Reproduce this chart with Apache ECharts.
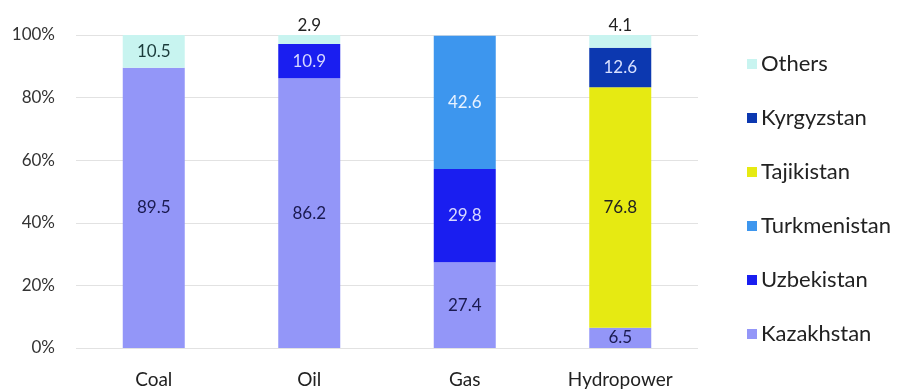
<!DOCTYPE html>
<html><head><meta charset="utf-8">
<script src="https://cdn.jsdelivr.net/npm/echarts@6/dist/echarts.min.js"></script>
<style>html,body{margin:0;padding:0;background:#fff}#c{width:897px;height:392px}</style>
</head><body><div id="c"></div>
<script>
const categories = ['Coal', 'Oil', 'Gas', 'Hydropower'];
const kazakhstan = [89.5, 86.2, 27.4, 6.5];
const uzbekistan = [0, 10.9, 29.8, 0];
const turkmenistan = [0, 0, 42.6, 0];
const tajikistan = [0, 0, 0, 76.8];
const kyrgyzstan = [0, 0, 0, 12.6];
const others = [10.5, 2.9, 0, 4.1];
const yTicks = [0, 20, 40, 60, 80, 100];

const font = 'Lato';
function mk(name, data, color, labelColor) {
  return {
    name, type: 'bar', stack: 'total', barWidth: 62,
    itemStyle: { color },
    label: {
      show: true, position: 'inside', color: labelColor, fontFamily: font, fontSize: 17,
      formatter: p => p.value ? p.value.toFixed(1) : ''
    },
    data: data.map(v => {
      if (name === 'Others' && v > 0 && v < 6) {
        return { value: v, label: { position: 'top', distance: 1, color: '#222' } };
      }
      return v;
    })
  };
}
const chart = echarts.init(document.getElementById('c'));
chart.setOption({
  animation: false,
  textStyle: { fontFamily: font },
  grid: { left: 76, right: 199, top: 35, bottom: 44 },
  legend: {
    orient: 'vertical', left: 742, top: 47,
    itemWidth: 10, itemHeight: 10, itemGap: 30, icon: 'rect',
    textStyle: { fontFamily: font, fontSize: 22, color: '#222', lineHeight: 24, padding: [0, 0, 0, -1] },
    data: ['Others', 'Kyrgyzstan', 'Tajikistan', 'Turkmenistan', 'Uzbekistan', 'Kazakhstan']
  },
  xAxis: {
    type: 'category', data: categories,
    axisLine: { show: false }, axisTick: { show: false },
    axisLabel: { color: '#222', fontSize: 19, margin: 22, fontFamily: font }
  },
  yAxis: {
    type: 'value', min: 0, max: 100, interval: 20,
    axisLabel: { color: '#333', fontSize: 17, margin: 21, fontFamily: font, formatter: v => yTicks.includes(v) ? v + '%' : '' },
    splitLine: { lineStyle: { color: '#e2e2e2' } },
    axisLine: { show: false }, axisTick: { show: false }
  },
  series: [
    mk('Kazakhstan', kazakhstan, '#9396f8', '#1a1a50'),
    mk('Uzbekistan', uzbekistan, '#1a1ef0', '#d8d8ff'),
    mk('Turkmenistan', turkmenistan, '#3d96ee', '#e8f2ff'),
    mk('Tajikistan', tajikistan, '#e6ea12', '#222'),
    mk('Kyrgyzstan', kyrgyzstan, '#0c38b0', '#d8e0ff'),
    mk('Others', others, '#c8f4f0', '#1a3a3a')
  ]
});
</script></body></html>
